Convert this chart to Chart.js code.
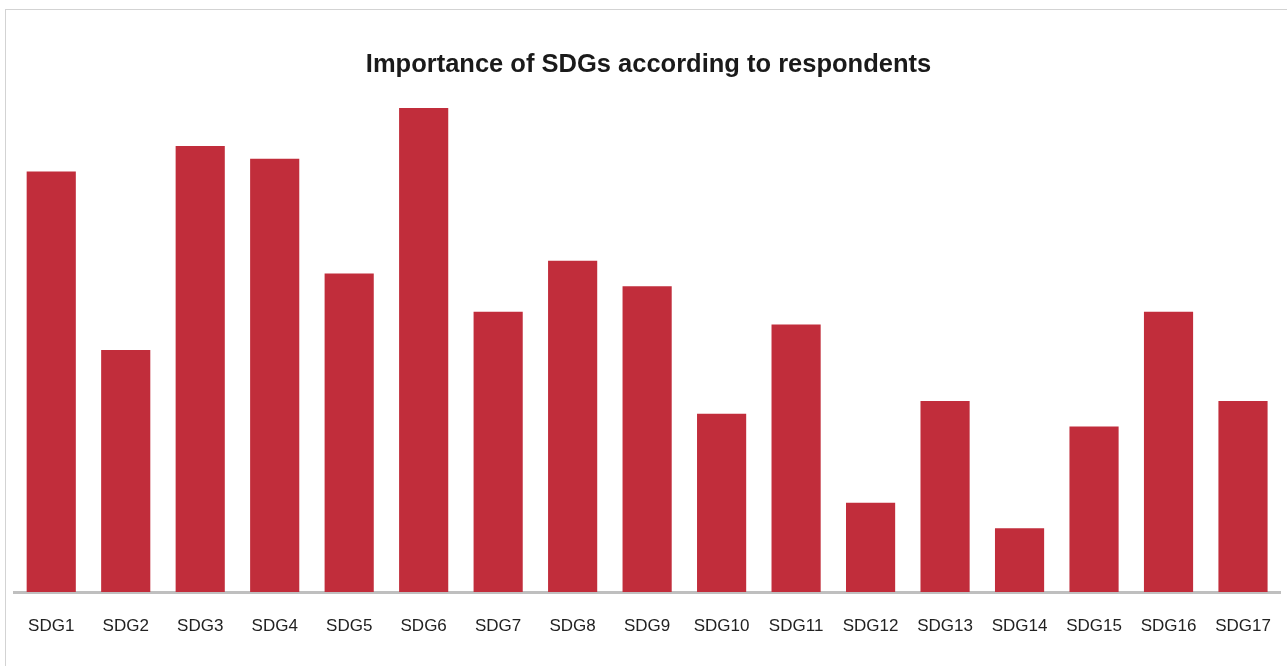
<!DOCTYPE html>
<html>
<head>
<meta charset="utf-8">
<script src="https://cdn.jsdelivr.net/npm/chart.js@4/dist/chart.umd.min.js"></script>
<style>
    body { margin: 0; background: #fff; overflow: hidden; }
    .m-frame {
        position: absolute; left: 5px; top: 9px;
        width: 1320px; height: 700px;
        border: 1.5px solid #d3d3d3;
    }
    #myChart { position: absolute; left: 0; top: 0; }
</style>
</head>
<body>
<div class="m-frame"></div>
<canvas id="myChart" width="1287" height="666"></canvas>
<script>
const mLabels = ['SDG1', 'SDG2', 'SDG3', 'SDG4', 'SDG5', 'SDG6', 'SDG7', 'SDG8', 'SDG9',
    'SDG10', 'SDG11', 'SDG12', 'SDG13', 'SDG14', 'SDG15', 'SDG16', 'SDG17'];
const mData = [33, 19, 35, 34, 25, 38, 22, 26, 24, 14, 21, 7, 15, 5, 13, 22, 15];
const mTitle = 'Importance of SDGs according to respondents';
const mFont = "'Liberation Sans Narrow', 'Arial Narrow', 'Liberation Sans', Arial, sans-serif";

const ctx = document.getElementById('myChart').getContext('2d');
const myChart = new Chart(ctx, {
    type: 'bar',
    data: {
        labels: mLabels,
        datasets: [{
            label: 'Importance',
            data: mData,
            backgroundColor: '#c12d3b',
            borderWidth: 0,
            barPercentage: 0.66,
            categoryPercentage: 1
        }]
    },
    options: {
        responsive: false,
        animation: false,
        devicePixelRatio: 1,
        layout: { padding: { left: 14, right: 4, top: 0, bottom: 0 } },
        plugins: {
            legend: { display: false },
            tooltip: { enabled: false },
            title: {
                display: true,
                text: mTitle,
                color: '#1a1a1a',
                font: { family: mFont, size: 25.5, weight: 'bold' },
                padding: { top: 50, bottom: 1.8 }
            }
        },
        scales: {
            x: {
                grid: { display: false },
                border: { display: true, color: '#bfbfbf', width: 3 },
                ticks: {
                    color: '#222222',
                    font: { family: mFont, size: 17 },
                    padding: 16,
                    maxRotation: 0,
                    autoSkip: false
                },
                afterFit: function (scale) { scale.height = 74; }
            },
            y: {
                display: false,
                min: 0,
                max: 40
            }
        }
    }
});
</script>
</body>
</html>
